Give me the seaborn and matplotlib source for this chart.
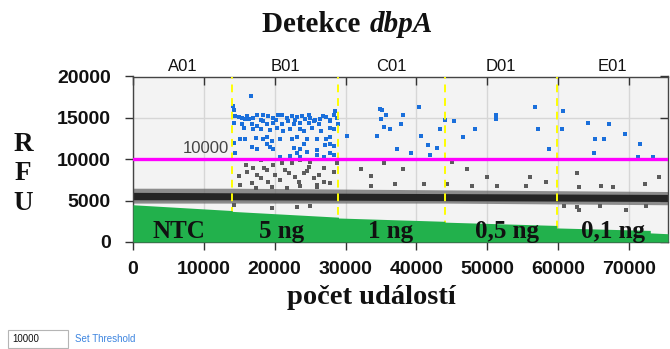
import matplotlib
matplotlib.use("Agg")
import matplotlib.pyplot as plt
import matplotlib.transforms as mtransforms
import matplotlib.patches as mpatches
import pandas as pd
import seaborn as sns

# wells, their event ranges and the loaded DNA amounts
wells = ["A01", "B01", "C01", "D01", "E01"]
well_bounds = [0, 14000, 29000, 44000, 59800, 75500]
amounts = ["NTC", "5 ng", "1 ng", "0,5 ng", "0,1 ng"]
amount_x = [6550, 20900, 36300, 52800, 67700]
threshold = 10000

# positive droplets (event number, amplitude)
blue_x = [16600, 14100, 14300,
          14400, 14900, 15400, 15800, 16100, 16300, 17000, 17500, 18000, 18400,
          19100, 19800, 20200, 20500, 21000, 21700, 22400, 22900, 23100, 23800,
          24300, 24800, 25000, 25700, 26400, 26800, 27300, 27800, 28300, 28800, 28500,
          14200, 15400, 16800, 17500, 18400, 18900, 19800, 21000, 21900, 22700,
          23600, 24800, 25500, 26200, 27800, 29000,
          15600, 17000, 18000, 19400, 20300, 21200, 22200, 23600, 24100, 25200,
          26600, 27800, 28300,
          15100, 15800, 17300, 18400, 18900, 19600, 20800, 22400, 23100, 24500,
          25900, 27300, 27800, 30200,
          14200, 16800, 17500, 18900, 19400, 19800, 22700, 23600, 24100, 24500,
          25900, 27100, 27800, 28300,
          14400, 20800, 22200, 23100, 23600, 25900, 26900, 27800, 28300,
          34800, 35200, 35700, 35000, 38100, 40400, 35400, 36200, 37800, 34400,
          37300, 39300, 40700, 41700, 42900, 41900, 43300, 44100, 45300, 46600,
          48200, 51200, 51200, 56700, 60700, 57200, 60500, 58700, 64200, 67200,
          65200, 66400, 65000, 69400, 71600, 71300, 73400]
blue_y = [17600, 16400, 16000,
          15200, 15100, 15000, 14900, 15200, 14900, 15000, 15400, 14800, 15300,
          15200, 15000, 14700, 15400, 15300, 15000, 15200, 14800, 15100, 15200,
          14900, 15300, 15000, 14800, 14900, 15200, 15100, 14700, 15400, 15000, 15800,
          14400, 14200, 14300, 14000, 14600, 14200, 14400, 14200, 14600, 14200,
          14400, 14400, 14600, 14200, 14600, 14200,
          13800, 13600, 13700, 13500, 13800, 13400, 13600, 13700, 13400, 13800,
          13400, 13800, 13600,
          12400, 12400, 12600, 12400, 12700, 12200, 12400, 12400, 12700, 12400,
          12400, 12400, 12700, 12800,
          12000, 11500, 11200, 11800, 11500, 11200, 11400, 11200, 11800, 10900,
          11100, 11700, 11800, 11600,
          10700, 10300, 10400, 10700, 10300, 10500, 10300, 10700, 10500,
          16100, 15900, 15400, 14900, 15400, 16300, 13900, 13600, 14200, 12800,
          11200, 10700, 12800, 11700, 11400, 10500, 13700, 14800, 14600, 12700,
          13700, 15300, 14900, 16300, 15800, 13600, 13700, 11200, 14400, 14200,
          12400, 12500, 10700, 13000, 11800, 10300, 10300]

# rain droplets between the negative band and the threshold
rain_x = [14900, 16100, 17000, 17500, 18000, 16800, 18900, 19800, 20100, 20800,
          21500, 22400, 22900, 23400, 24100, 24800, 25500, 26200, 26900, 28300,
          28800, 19600, 21700, 23600, 17300, 15100, 25900, 27800, 18000, 23600,
          25000, 16000, 18500, 21000, 24500, 27000, 19000, 26000, 22000,
          19600, 25000, 14200, 23100,
          32200, 35400, 33600, 38100, 37000, 41000, 45000, 47100, 50000, 44300,
          33600, 47900, 51300, 56000, 55400, 58300, 62700, 62900, 66100, 67800,
          72300, 74200,
          62600, 63000, 65900, 69600, 72400, 60800]
rain_y = [8000, 8500, 8900, 8100, 7700, 7100, 8700, 9300, 8100, 7500,
          8700, 9500, 7900, 7300, 8300, 9100, 7700, 8100, 7300, 8500,
          9500, 6700, 6500, 6800, 6500, 6900, 6700, 7100, 9900, 9900,
          9700, 9300, 9000, 9500, 8600, 9000, 7300, 6900, 8300,
          4100, 4300, 4500, 4200,
          8800, 9500, 8000, 8800, 7000, 7000, 9700, 8800, 7800, 7000,
          6800, 6800, 6800, 7800, 6800, 7300, 8300, 6600, 6800, 6600,
          7000, 7800,
          4200, 3900, 4300, 3900, 4400, 4300]

# negative droplet band (outer edge and dense core)
band_x = [0, 14000, 29000, 44000, 59800, 75500]
band_hi = [6500, 6500, 6400, 6300, 6200, 6100]
band_lo = [4700, 4700, 4700, 4700, 4600, 4500]
core_hi = [6000, 5950, 5900, 5850, 5800, 5750]
core_lo = [5100, 5100, 5050, 5000, 4950, 4900]

# green annotation strip at the bottom
green_x = [0, 14000, 14000, 29000, 29000, 44000, 44000, 59800, 59800, 73000, 73000, 75500]
green_top = [4500, 3800, 3700, 3000, 2900, 2500, 2400, 2000, 1700, 1400, 1100, 1000]

sns.set_theme(style="white")
plt.rcParams["font.family"] = ["Liberation Sans", "DejaVu Sans"]
serif = ["Liberation Serif", "DejaVu Serif"]

fig = plt.figure(figsize=(6.7, 3.49), dpi=100)
ax = fig.add_axes([133 / 670, 107 / 349, 535 / 670, 165.5 / 349])
ax.set_facecolor("#f3f3f3")

ax.set_xlim(0, 75500)
ax.set_ylim(0, 20000)
ax.set_xticks(range(0, 75000, 10000))
ax.set_yticks(range(0, 20001, 5000))
ax.grid(True, color="#d6d6d6", lw=1)
ax.set_axisbelow(True)

# negative band
ax.fill_between(band_x, band_lo, band_hi, color="#6a6a6a", alpha=0.75, lw=0, zorder=2)
ax.fill_between(band_x, core_lo, core_hi, color="#252525", lw=0, zorder=2)

# rain and positive droplets
rain = pd.DataFrame({"x": rain_x, "y": rain_y})
pos = pd.DataFrame({"x": blue_x, "y": blue_y})
sns.scatterplot(data=rain, x="x", y="y", marker="s", s=9, color="#5c5c5c",
                linewidth=0, ax=ax, zorder=3)
sns.scatterplot(data=pos, x="x", y="y", marker="s", s=11, color="#1a6fdb",
                linewidth=0, ax=ax, zorder=3)

# well separators
for b in well_bounds[1:-1]:
    ax.axvline(b, color="#ffff00", lw=1.4, ls=(0, (4, 3)), zorder=3.5)

# green strip with the amounts
ax.fill_between(green_x, 0, green_top, color="#22b14c", lw=0, zorder=4)
for xx, lab in zip(amount_x, amounts):
    ax.text(xx, 450, lab, ha="center", va="baseline", fontsize=18,
            fontweight="bold", family=serif, color="#111111", zorder=5)

# threshold
ax.axhline(threshold, color="#ff00ff", lw=2.4, zorder=5)
ax.text(13500, threshold + 350, "10000", ha="right", va="bottom",
        fontsize=12, color="#444444", zorder=5)

# well names on top
trans = mtransforms.blended_transform_factory(ax.transData, ax.transAxes)
for i, name in enumerate(wells):
    c = (well_bounds[i] + well_bounds[i + 1]) / 2
    ax.text(c, 1.018, name, transform=trans, ha="center", va="bottom",
            fontsize=12, color="#111111")

for s in ax.spines.values():
    s.set_color("#444444")
    s.set_linewidth(1)
ax.tick_params(axis="x", bottom=True, top=True, direction="out", length=6,
               width=1, color="#333333", pad=8, labelsize=14)
ax.tick_params(axis="y", left=True, right=True, direction="out", length=6,
               width=1, color="#333333", pad=10, labelsize=14)
for t in ax.xaxis.get_major_ticks():
    t.tick2line.set_marker(3)
for t in ax.yaxis.get_major_ticks():
    t.tick2line.set_marker(0)
for lbl in ax.get_xticklabels() + ax.get_yticklabels():
    lbl.set_fontweight("bold")
    lbl.set_color("#111111")
ax.set_xlabel("")
ax.set_ylabel("")

# titles and axis labels
fig.text(368 / 670, 1 - 25 / 349, "Detekce ", ha="right", va="center",
         fontsize=21, fontweight="bold", family=serif, color="#111111")
fig.text(370 / 670, 1 - 25 / 349, "dbpA", ha="left", va="center",
         fontsize=21, fontweight="bold", style="italic", family=serif, color="#111111")
fig.text(371 / 670, 1 - 298 / 349, "počet událostí", ha="center", va="center",
         fontsize=20.5, fontweight="bold", family=serif, color="#111111")
fig.text(23 / 670, 1 - 174 / 349, "R\nF\nU", ha="center", va="center",
         fontsize=19.5, fontweight="bold", family=serif, color="#111111",
         linespacing=1.25)

# threshold input widget
fig.patches.append(mpatches.Rectangle((8 / 670, 1 - 348 / 349), 60 / 670, 18 / 349,
                                      transform=fig.transFigure, facecolor="white",
                                      edgecolor="#b5b5b5", lw=0.8))
fig.text(12 / 670, 1 - 339 / 349, "10000", ha="left", va="center", fontsize=7,
         color="#111111")
fig.text(75 / 670, 1 - 339 / 349, "Set Threshold", ha="left", va="center",
         fontsize=7, color="#3d85e0")

fig.savefig("out.png", dpi=100)
